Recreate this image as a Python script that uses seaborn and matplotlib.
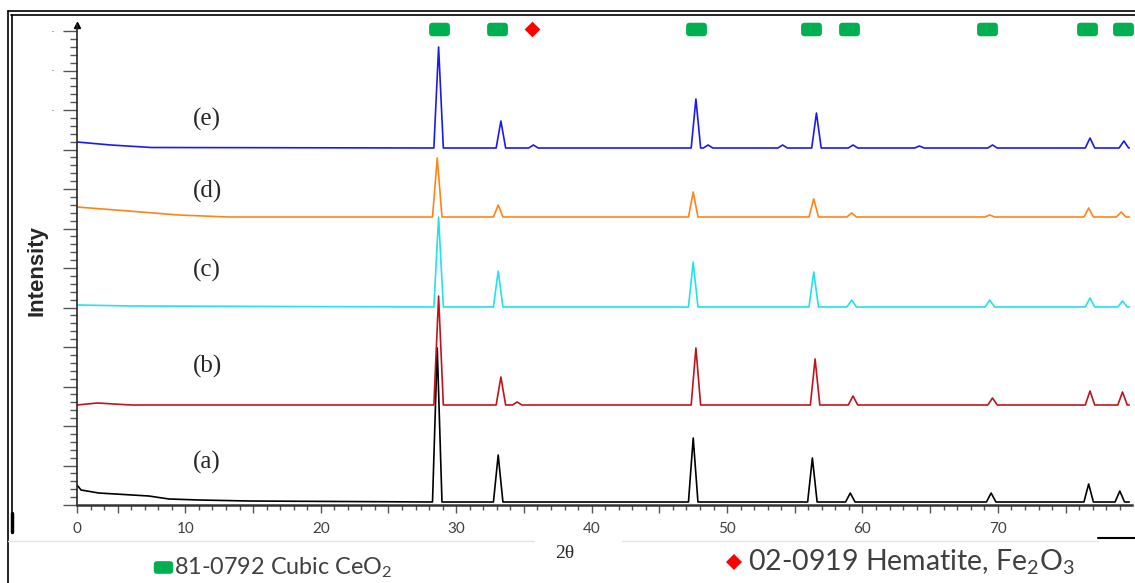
import matplotlib
matplotlib.use("Agg")
import matplotlib.pyplot as plt
from matplotlib.lines import Line2D
from matplotlib.patches import FancyBboxPatch
from matplotlib.ticker import MultipleLocator
import pandas as pd
import seaborn as sns

W, H = 1135, 583

# ── data (2θ in degrees, intensity in arbitrary units) ──
samples = ["(a)", "(b)", "(c)", "(d)", "(e)"]
colors = ["#000000", "#c0141c", "#22e2ea", "#ff8418", "#1a1af0"]

a_start_x = [2.0, 2.3, 3.6, 7.3, 8.8, 11.0, 14.7]
a_start_y = [20, 15, 12, 9, 6, 5, 4]
a_base = 3
a_peaks = [28.6, 33.1, 47.5, 56.3, 59.1, 69.5, 76.7, 79.0]
a_tops = [157, 50, 67, 47, 12, 12, 21, 14]

b_start_x = [2.0, 3.5, 6.0]
b_start_y = [100, 102, 100]
b_base = 100
b_peaks = [28.7, 33.3, 34.5, 47.7, 56.5, 59.3, 69.6, 76.8, 79.2]
b_tops = [209, 128, 103, 157, 146, 109, 107, 114, 113]

c_start_x = [2.0, 6.0]
c_start_y = [200, 199]
c_base = 198
c_peaks = [28.7, 33.1, 47.5, 56.4, 59.2, 69.4, 76.8, 79.2]
c_tops = [288, 234, 243, 233, 205, 205, 207, 204]

d_start_x = [2.0, 5.8, 9.5, 13.2]
d_start_y = [298, 294, 290, 288]
d_base = 288
d_peaks = [28.6, 33.1, 47.5, 56.4, 59.2, 69.4, 76.7, 79.1]
d_tops = [347, 300, 313, 306, 292, 290, 297, 293]

e_start_x = [2.0, 4.5, 7.5]
e_start_y = [363, 360, 357.5]
e_base = 357
e_peaks = [28.7, 33.3, 35.7, 47.7, 48.6, 54.1, 56.6, 59.3, 64.2, 69.6, 76.8, 79.3]
e_tops = [458, 384, 360, 406, 360, 360, 392, 360, 359, 360, 367, 364]

scan_end = 79.7
peak_foot = 0.35

# reference patterns shown along the top
ceo2_ref = [28.7, 33.0, 47.7, 56.2, 59.0, 69.2, 76.6, 79.2]
fe2o3_ref = [35.6]
ref_row = 476

x_ticks = [2, 5, 10, 15, 20, 25, 30, 35, 40, 45, 50, 55, 60, 65, 70, 75]
x_labels = ["0", "", "10", "", "20", "", "30", "", "40", "", "50", "", "60", "", "70", ""]


def trace(name, sx, sy, base, peaks, tops):
    xs, ys = list(sx), list(sy)
    for p, h in zip(peaks, tops):
        xs += [p - peak_foot, p, p + peak_foot]
        ys += [base, h, base]
    xs.append(scan_end)
    ys.append(base)
    return pd.DataFrame({"two_theta": xs, "intensity": ys, "sample": name})


df = pd.concat([
    trace("(a)", a_start_x, a_start_y, a_base, a_peaks, a_tops),
    trace("(b)", b_start_x, b_start_y, b_base, b_peaks, b_tops),
    trace("(c)", c_start_x, c_start_y, c_base, c_peaks, c_tops),
    trace("(d)", d_start_x, d_start_y, d_base, d_peaks, d_tops),
    trace("(e)", e_start_x, e_start_y, e_base, e_peaks, e_tops),
], ignore_index=True)

sns.set_style("ticks")
plt.rcParams["mathtext.fontset"] = "custom"
plt.rcParams["mathtext.rm"] = "Lato"
plt.rcParams["mathtext.it"] = "Lato:italic"

fig = plt.figure(figsize=(W / 100, H / 100), dpi=100)
ax = fig.add_axes([77 / W, 1 - 505 / H, (1132 - 77) / W, (505 - 25) / H])

sns.lineplot(data=df, x="two_theta", y="intensity", hue="sample",
             palette=dict(zip(samples, colors)), estimator=None, sort=False,
             linewidth=1.2, legend=False, ax=ax)

# rounded green block used as the CeO2 marker
block = FancyBboxPatch((-1.0, -0.65), 2.0, 1.3,
                       boxstyle="round,pad=0,rounding_size=0.35").get_path()

ax.scatter(ceo2_ref, [ref_row] * len(ceo2_ref), marker=block, s=15 ** 2,
           color="#00b050", linewidths=0, clip_on=False, zorder=5)
ax.scatter(fe2o3_ref, [ref_row] * len(fe2o3_ref), marker="D", s=8 ** 2,
           color="#ff0000", linewidths=0, clip_on=False, zorder=5)

ax.set_xlim(2, 79.9)
ax.set_ylim(0, 480)
ax.set_xticks(x_ticks)
ax.set_xticklabels(x_labels)
ax.xaxis.set_minor_locator(MultipleLocator(1))
ax.set_yticks([39.5 * k for k in range(13)])
ax.set_yticklabels([""] * 10 + ["·"] * 3)
ax.yaxis.set_minor_locator(MultipleLocator(7.9))
ax.tick_params(axis="x", which="major", length=6, width=1, color="#555555",
               labelsize=11, labelcolor="#404040", pad=6)
ax.tick_params(axis="x", which="minor", length=3.5, width=1, color="#555555")
ax.tick_params(axis="y", which="major", length=10, width=1, color="#555555",
               labelsize=9, labelcolor="#777777", pad=6)
ax.tick_params(axis="y", which="minor", length=5, width=1, color="#555555")
for lab in ax.get_xticklabels():
    lab.set_family("Lato")
ax.set_xlabel("")
ax.set_ylabel("")
sns.despine(ax=ax)
ax.spines["left"].set_linewidth(1.2)
ax.spines["bottom"].set_linewidth(1.8)
ax.spines["bottom"].set_color("#333333")
ax.plot(0, 1, marker="^", ms=5, color="black", transform=ax.transAxes,
        clip_on=False)

label_x = 11.6
label_y = {"(e)": 386, "(d)": 314, "(c)": 235, "(b)": 139, "(a)": 43}
for name in samples:
    ax.text(label_x, label_y[name], name, ha="center", va="center",
            fontsize=18, family="Liberation Serif")

fig.text(37 / W, 1 - 271 / H, "Intensity", rotation=90, ha="center",
         va="center", fontsize=16, fontweight="bold", family="Liberation Sans")

# bottom legend strip
fig.text(565 / W, 1 - 553 / H, "2θ", ha="center", va="center", fontsize=14,
         family="Liberation Serif")
fig.text(174 / W, 1 - 568 / H, "81-0792 Cubic CeO$_2$", ha="left",
         va="center", fontsize=16.8, family="Lato", color="#404040")
fig.text(748 / W, 1 - 562 / H, "02-0919 Hematite, Fe$_2$O$_3$", ha="left",
         va="center", fontsize=20.5, family="Lato", color="#404040")
fig.add_artist(Line2D([163.5 / W], [1 - 567 / H], marker=block, ms=14,
                      color="#00b050", mew=0, transform=fig.transFigure))
fig.add_artist(Line2D([734 / W], [1 - 562 / H], marker="D", ms=8.5,
                      color="#ff0000", mew=0, transform=fig.transFigure))


def px_line(xs, ys, **kw):
    fig.add_artist(Line2D([x / W for x in xs], [1 - y / H for y in ys],
                          transform=fig.transFigure, **kw))


# scanned frame around the plot
px_line([8, 1135], [11, 11], color="black", lw=1.2)
px_line([11, 1135], [14.5, 14.5], color="black", lw=1.2)
px_line([8, 8], [11, 583], color="black", lw=1.2)
px_line([11.5, 11.5], [14.5, 532], color="black", lw=1.2)
px_line([11.5, 11.5], [513, 532], color="black", lw=2.5)
px_line([8, 534], [541, 541], color="#e4e4e4", lw=1)
px_line([622, 1098], [541, 541], color="#e4e4e4", lw=1)
px_line([1098, 1135], [538, 538], color="black", lw=1.5)

fig.savefig("out.png", dpi=100)
